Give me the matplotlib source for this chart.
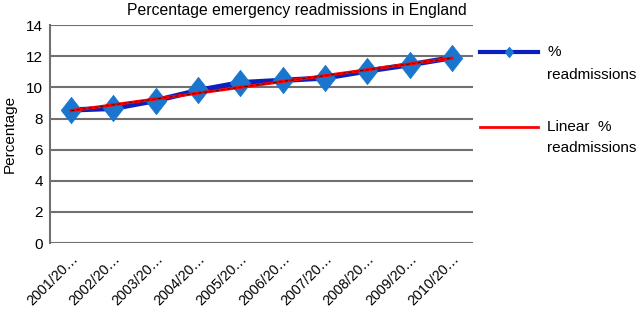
import matplotlib
matplotlib.use("Agg")
import matplotlib.pyplot as plt
from matplotlib.lines import Line2D
import numpy as np

plt.rcParams['font.family'] = ['Liberation Sans', 'DejaVu Sans']

# data
years = ["2001/20…", "2002/20…", "2003/20…", "2004/20…", "2005/20…",
         "2006/20…", "2007/20…", "2008/20…", "2009/20…", "2010/20…"]
readmissions = [8.55, 8.65, 9.15, 9.8, 10.3, 10.45, 10.6, 11.05, 11.45, 11.9]
y_ticks = [0, 2, 4, 6, 8, 10, 12, 14]

x = np.arange(len(years))
# linear trend line
slope, icpt = np.polyfit(x, readmissions, 1)
trend = slope * x + icpt

fig = plt.figure(figsize=(6.4, 3.17), dpi=100)
ax = fig.add_axes([0.078, 0.233, 0.661, 0.688])

blue_line = '#0a1fbf'
blue_mark = '#1a75cf'
# slightly tall diamond like the original
diamond = [(-0.78, 0), (0, 1), (0.78, 0), (0, -1), (-0.78, 0)]
ax.plot(x, readmissions, color=blue_line, lw=3.8, marker=diamond, ms=19,
        mfc=blue_mark, mec=blue_mark, mew=0.5, zorder=3)
ax.plot(x, trend, color='red', lw=2.2, zorder=4)
ax.plot(x, trend, color='#400000', lw=0.6, ls=(0, (4, 3)), zorder=5)

ax.set_xlim(-0.5, len(years) - 0.5)
ax.set_ylim(0, 14)
ax.set_yticks(y_ticks)
ax.yaxis.grid(True, color='#707070', lw=1.5)
ax.set_axisbelow(True)
for s in ['top', 'right', 'bottom']:
    ax.spines[s].set_visible(False)
ax.spines['left'].set_color('#707070')
ax.spines['left'].set_linewidth(1.5)
ax.tick_params(axis='both', length=0, labelsize=11)
ax.tick_params(axis='y', pad=5)
ax.set_xticks(x)
ax.set_xticklabels(years, rotation=45, ha='right', va='top',
                   rotation_mode='anchor', fontsize=10.3)
ax.tick_params(axis='x', pad=6)
ax.set_ylabel('Percentage', fontsize=11, labelpad=7)
fig.text(297 / 640, 1 - 11 / 317, 'Percentage emergency readmissions in England',
         fontsize=11.3, ha='center', va='center')

# legend drawn by hand so the handles sit on the first text line
tr = fig.transFigure
W, H = 640.0, 317.0
fig.add_artist(Line2D([480 / W, 538 / W], [1 - 52 / H, 1 - 52 / H], transform=tr,
                      color=blue_line, lw=3))
fig.add_artist(Line2D([509 / W], [1 - 52 / H], transform=tr, marker=diamond, ms=7,
                      mfc=blue_mark, mec=blue_mark))
fig.text(547 / W, 1 - 52 / H, '%', fontsize=11, va='center')
fig.text(547 / W, 1 - 75 / H, 'readmissions', fontsize=11, va='center')
fig.add_artist(Line2D([480 / W, 538 / W], [1 - 127 / H, 1 - 127 / H], transform=tr,
                      color='red', lw=2))
fig.text(547 / W, 1 - 127 / H, 'Linear  %', fontsize=11, va='center')
fig.text(547 / W, 1 - 148 / H, 'readmissions', fontsize=11, va='center')

fig.savefig('out.png', dpi=100)
